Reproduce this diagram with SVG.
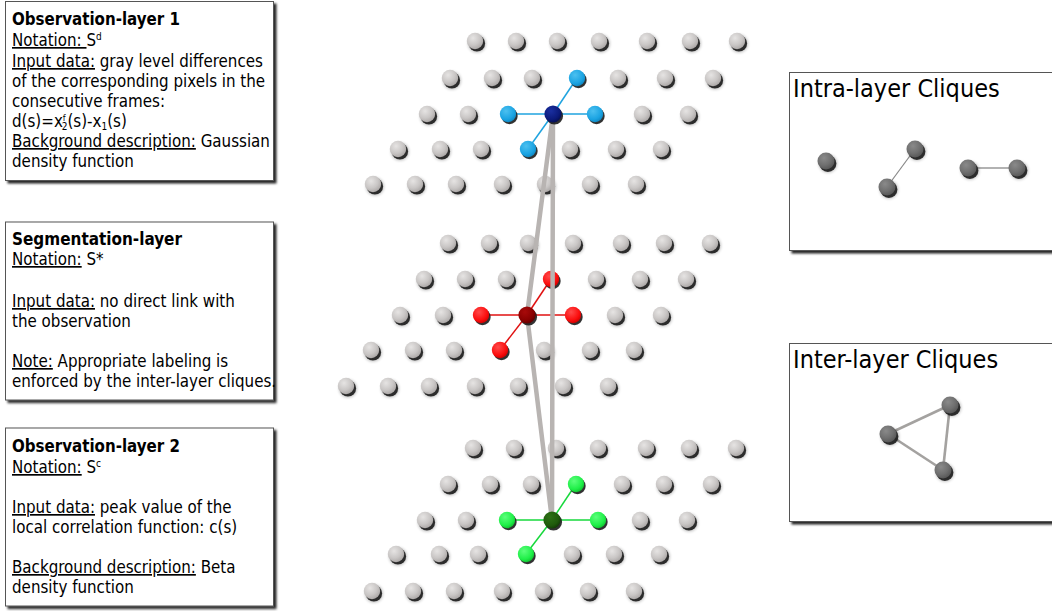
<svg xmlns="http://www.w3.org/2000/svg" xmlns:xlink="http://www.w3.org/1999/xlink" width="1052" height="611" viewBox="0 0 1052 611">
<defs>
<style>
.box{fill:#fff;stroke:#555;stroke-width:1;filter:url(#bsh)}
.t{font-family:'DejaVu Sans Condensed','DejaVu Sans',sans-serif;font-size:16.8px;fill:#000}
.b{font-weight:bold}
.u{text-decoration:underline}
.ttl{font-family:'DejaVu Sans Condensed','DejaVu Sans',sans-serif;font-size:25px;fill:#000}
.inter{stroke:#b8b4b2;stroke-width:4.5;fill:none;stroke-linecap:round}
.eb{stroke:#1fa3df;stroke-width:1.5}
.er{stroke:#e01010;stroke-width:1.5}
.eg{stroke:#17d83c;stroke-width:1.5}
.sh{fill:#1e1e1e;opacity:.9;filter:url(#dsh)}
.sh2{fill:#000;opacity:.25;filter:url(#dsh2)}
</style>
<filter id="bsh" x="-5%" y="-5%" width="115%" height="115%"><feDropShadow dx="2.5" dy="2.5" stdDeviation="0.8" flood-color="#000" flood-opacity="0.85"/></filter>
<filter id="dsh" x="-50%" y="-50%" width="200%" height="200%"><feGaussianBlur stdDeviation="0.5"/></filter>
<filter id="dsh2" x="-50%" y="-50%" width="200%" height="200%"><feGaussianBlur stdDeviation="1.5"/></filter>
<radialGradient id="gGray" cx="0.38" cy="0.32" r="0.72"><stop offset="0" stop-color="#e6e4e3"/><stop offset="0.6" stop-color="#c9c6c5"/><stop offset="1" stop-color="#aaa6a5"/></radialGradient>
<radialGradient id="gDark" cx="0.38" cy="0.32" r="0.72"><stop offset="0" stop-color="#8a8a8a"/><stop offset="0.6" stop-color="#6f6f6f"/><stop offset="1" stop-color="#555"/></radialGradient>
<radialGradient id="gBlue" cx="0.38" cy="0.32" r="0.72"><stop offset="0" stop-color="#4cc0f0"/><stop offset="0.7" stop-color="#1aa3e2"/><stop offset="1" stop-color="#0f86c0"/></radialGradient>
<radialGradient id="gNavy" cx="0.38" cy="0.32" r="0.72"><stop offset="0" stop-color="#1a2fa0"/><stop offset="0.7" stop-color="#0b1a7a"/><stop offset="1" stop-color="#050e50"/></radialGradient>
<radialGradient id="gRed" cx="0.38" cy="0.32" r="0.72"><stop offset="0" stop-color="#ff4a4a"/><stop offset="0.7" stop-color="#fb0d0d"/><stop offset="1" stop-color="#cc0000"/></radialGradient>
<radialGradient id="gDRed" cx="0.38" cy="0.32" r="0.72"><stop offset="0" stop-color="#a80a0a"/><stop offset="0.7" stop-color="#880000"/><stop offset="1" stop-color="#5a0000"/></radialGradient>
<radialGradient id="gGreen" cx="0.38" cy="0.32" r="0.72"><stop offset="0" stop-color="#5cff7c"/><stop offset="0.7" stop-color="#1eef47"/><stop offset="1" stop-color="#10c030"/></radialGradient>
<radialGradient id="gDGreen" cx="0.38" cy="0.32" r="0.72"><stop offset="0" stop-color="#2e7216"/><stop offset="0.7" stop-color="#1f5a0c"/><stop offset="1" stop-color="#123a06"/></radialGradient>
<g id="dg"><circle class="sh2" cx="2" cy="2.6" r="9"/><circle class="sh" cx="1.9" cy="2.4" r="8.2"/><circle r="8.2" fill="url(#gGray)"/></g>
<g id="dk"><circle class="sh2" cx="2" cy="2.6" r="9.2"/><circle class="sh" cx="1.9" cy="2.4" r="8.5"/><circle r="8.5" fill="url(#gDark)"/></g>
<g id="db"><circle class="sh" cx="1.5" cy="2" r="8.2"/><circle r="8.2" fill="url(#gBlue)"/></g>
<g id="dn"><circle class="sh" cx="1.5" cy="2" r="8.6"/><circle r="8.6" fill="url(#gNavy)"/></g>
<g id="dr"><circle class="sh" cx="1.5" cy="2" r="8.2"/><circle r="8.2" fill="url(#gRed)"/></g>
<g id="ddr"><circle class="sh" cx="1.5" cy="2" r="8.6"/><circle r="8.6" fill="url(#gDRed)"/></g>
<g id="dgr"><circle class="sh" cx="1.5" cy="2" r="8.2"/><circle r="8.2" fill="url(#gGreen)"/></g>
<g id="ddg"><circle class="sh" cx="1.5" cy="2" r="8.6"/><circle r="8.6" fill="url(#gDGreen)"/></g>
</defs>
<rect width="1052" height="611" fill="#fff"/>

<!-- Text boxes -->
<g id="box-obs1">
<rect class="box" x="5.5" y="1.5" width="268" height="179"/>
<text class="t b" x="12" y="25" textLength="168" lengthAdjust="spacingAndGlyphs">Observation-layer 1</text>
<text class="t" x="12" y="46"><tspan class="u">Notation: </tspan>S<tspan font-size="10" dy="-6">d</tspan></text>
<text class="t" x="12" y="67"><tspan class="u">Input data:</tspan> gray level differences</text>
<text class="t" x="12" y="87">of the corresponding pixels in the</text>
<text class="t" x="12" y="107">consecutive frames:</text>
<text class="t" x="12" y="127">d(s)=x<tspan font-size="9" dy="-6">f</tspan><tspan font-size="10" dx="-4" dy="9">2</tspan><tspan dy="-3">(s)-x</tspan><tspan font-size="10" dy="3">1</tspan><tspan dy="-3">(s)</tspan></text>
<text class="t" x="12" y="147"><tspan class="u">Background description:</tspan> Gaussian</text>
<text class="t" x="12" y="167">density function</text>
</g>

<g id="box-seg">
<rect class="box" x="5.5" y="222" width="268" height="178"/>
<text class="t b" x="12" y="245" textLength="170" lengthAdjust="spacingAndGlyphs">Segmentation-layer</text>
<text class="t" x="12" y="265"><tspan class="u">Notation:</tspan> S*</text>
<text class="t" x="12" y="307"><tspan class="u">Input data:</tspan> no direct link with</text>
<text class="t" x="12" y="327">the observation</text>
<text class="t" x="12" y="367"><tspan class="u">Note:</tspan> Appropriate labeling is</text>
<text class="t" x="12" y="387">enforced by the inter-layer cliques.</text>
</g>

<g id="box-obs2">
<rect class="box" x="5.5" y="428" width="268" height="178"/>
<text class="t b" x="12" y="452" textLength="168" lengthAdjust="spacingAndGlyphs">Observation-layer 2</text>
<text class="t" x="12" y="473"><tspan class="u">Notation:</tspan> S<tspan font-size="10" dy="-6">c</tspan></text>
<text class="t" x="12" y="513"><tspan class="u">Input data:</tspan> peak value of the</text>
<text class="t" x="12" y="533">local correlation function: c(s)</text>
<text class="t" x="12" y="573"><tspan class="u">Background description:</tspan> Beta</text>
<text class="t" x="12" y="593">density function</text>
</g>

<!-- Intra-layer cliques box -->
<g id="box-intra">
<rect class="box" x="789.5" y="72.5" width="275" height="178"/>
<text class="ttl" x="793" y="97">Intra-layer Cliques</text>
<line x1="887" y1="187" x2="915" y2="149" stroke="#888" stroke-width="1.2"/>
<line x1="968" y1="168" x2="1017" y2="168" stroke="#999" stroke-width="1.5"/>
<use href="#dk" x="826" y="161"/>
<use href="#dk" x="915" y="149"/>
<use href="#dk" x="887" y="187"/>
<use href="#dk" x="968" y="168"/>
<use href="#dk" x="1017" y="168"/>
</g>

<!-- Inter-layer cliques box -->
<g id="box-inter">
<rect class="box" x="789.5" y="343.5" width="275" height="178"/>
<text class="ttl" x="793" y="368">Inter-layer Cliques</text>
<g stroke="#a4a2a0" stroke-width="2.6" fill="none">
<line x1="888" y1="434" x2="950" y2="405"/>
<line x1="950" y1="405" x2="943" y2="470"/>
<line x1="888" y1="434" x2="943" y2="470"/>
</g>
<use href="#dk" x="950" y="405"/>
<use href="#dk" x="888" y="434"/>
<use href="#dk" x="943" y="470"/>
</g>

<!-- Observation layer 1 grid -->
<g id="layer-obs1">
<use href="#dg" x="475" y="41"/><use href="#dg" x="516" y="41"/><use href="#dg" x="557" y="41"/><use href="#dg" x="599" y="41"/><use href="#dg" x="647" y="41"/><use href="#dg" x="690" y="41"/><use href="#dg" x="737" y="41"/>
<use href="#dg" x="450" y="78"/><use href="#dg" x="492" y="78"/><use href="#dg" x="532" y="78"/><use href="#dg" x="618" y="78"/><use href="#dg" x="665" y="78"/><use href="#dg" x="713" y="78"/>
<use href="#dg" x="427" y="114"/><use href="#dg" x="468" y="114"/><use href="#dg" x="642" y="114"/><use href="#dg" x="688" y="114"/>
<use href="#dg" x="398" y="149"/><use href="#dg" x="440" y="149"/><use href="#dg" x="481" y="149"/><use href="#dg" x="570" y="149"/><use href="#dg" x="616" y="149"/><use href="#dg" x="661" y="149"/>
<use href="#dg" x="373" y="184"/><use href="#dg" x="415" y="184"/><use href="#dg" x="456" y="184"/><use href="#dg" x="502" y="184"/><use href="#dg" x="545" y="184"/><use href="#dg" x="590" y="184"/><use href="#dg" x="636" y="184"/>
</g>

<!-- Segmentation layer grid -->
<g id="layer-seg">
<use href="#dg" x="448" y="243"/><use href="#dg" x="489" y="243"/><use href="#dg" x="528" y="243"/><use href="#dg" x="573" y="243"/><use href="#dg" x="621" y="243"/><use href="#dg" x="664" y="243"/><use href="#dg" x="710" y="243"/>
<use href="#dg" x="424" y="279"/><use href="#dg" x="465" y="279"/><use href="#dg" x="506" y="279"/><use href="#dg" x="596" y="279"/><use href="#dg" x="640" y="279"/><use href="#dg" x="686" y="279"/>
<use href="#dg" x="400" y="315"/><use href="#dg" x="443" y="315"/><use href="#dg" x="615" y="315"/><use href="#dg" x="661" y="315"/>
<use href="#dg" x="371" y="350"/><use href="#dg" x="413" y="350"/><use href="#dg" x="454" y="350"/><use href="#dg" x="544" y="350"/><use href="#dg" x="590" y="350"/><use href="#dg" x="634" y="350"/>
<use href="#dg" x="346" y="386"/><use href="#dg" x="388" y="386"/><use href="#dg" x="429" y="386"/><use href="#dg" x="475" y="386"/><use href="#dg" x="518" y="386"/><use href="#dg" x="563" y="386"/><use href="#dg" x="608" y="386"/>
</g>

<!-- Observation layer 2 grid -->
<g id="layer-obs2">
<use href="#dg" x="473" y="448"/><use href="#dg" x="514" y="448"/><use href="#dg" x="556" y="448"/><use href="#dg" x="598" y="448"/><use href="#dg" x="646" y="448"/><use href="#dg" x="689" y="448"/><use href="#dg" x="736" y="448"/>
<use href="#dg" x="448" y="484"/><use href="#dg" x="490" y="484"/><use href="#dg" x="531" y="484"/><use href="#dg" x="622" y="484"/><use href="#dg" x="664" y="484"/><use href="#dg" x="711" y="484"/>
<use href="#dg" x="425" y="520"/><use href="#dg" x="466" y="520"/><use href="#dg" x="640" y="520"/><use href="#dg" x="687" y="520"/>
<use href="#dg" x="396" y="554"/><use href="#dg" x="439" y="554"/><use href="#dg" x="478" y="554"/><use href="#dg" x="572" y="554"/><use href="#dg" x="614" y="554"/><use href="#dg" x="659" y="554"/>
<use href="#dg" x="372" y="591"/><use href="#dg" x="413" y="591"/><use href="#dg" x="454" y="591"/><use href="#dg" x="502" y="591"/><use href="#dg" x="543" y="591"/><use href="#dg" x="588" y="591"/><use href="#dg" x="634" y="591"/>
</g>

<!-- Connectors -->
<g id="connectors">
<g id="intra-edges">
<line class="eb" x1="553" y1="114" x2="577" y2="78"/><line class="eb" x1="553" y1="114" x2="508" y2="114"/><line class="eb" x1="553" y1="114" x2="595" y2="114"/><line class="eb" x1="553" y1="114" x2="528" y2="149"/>
<line class="er" x1="527" y1="315" x2="551" y2="279"/><line class="er" x1="527" y1="315" x2="481" y2="315"/><line class="er" x1="527" y1="315" x2="573" y2="315"/><line class="er" x1="527" y1="315" x2="500" y2="350"/>
<line class="eg" x1="552" y1="520" x2="576" y2="484"/><line class="eg" x1="552" y1="520" x2="507" y2="520"/><line class="eg" x1="552" y1="520" x2="598" y2="520"/><line class="eg" x1="552" y1="520" x2="526" y2="554"/>
</g>
</g>

<g id="neighbors">
<use href="#db" x="577" y="78"/><use href="#db" x="508" y="114"/><use href="#db" x="595" y="114"/><use href="#db" x="528" y="149"/>
<use href="#dr" x="551" y="279"/><use href="#dr" x="481" y="315"/><use href="#dr" x="573" y="315"/><use href="#dr" x="500" y="350"/>
<use href="#dgr" x="576" y="484"/><use href="#dgr" x="507" y="520"/><use href="#dgr" x="598" y="520"/><use href="#dgr" x="526" y="554"/>
</g>

<g id="inter-edges">
<line class="inter" x1="553" y1="114" x2="552" y2="520"/>
<line class="inter" x1="553" y1="114" x2="527" y2="315"/>
<line class="inter" x1="527" y1="315" x2="552" y2="520"/>
</g>

<g id="centers">
<use id="c-obs1" href="#dn" x="553" y="114"/>
<use id="c-seg" href="#ddr" x="527" y="315"/>
<use id="c-obs2" href="#ddg" x="552" y="520"/>
</g>
</svg>
